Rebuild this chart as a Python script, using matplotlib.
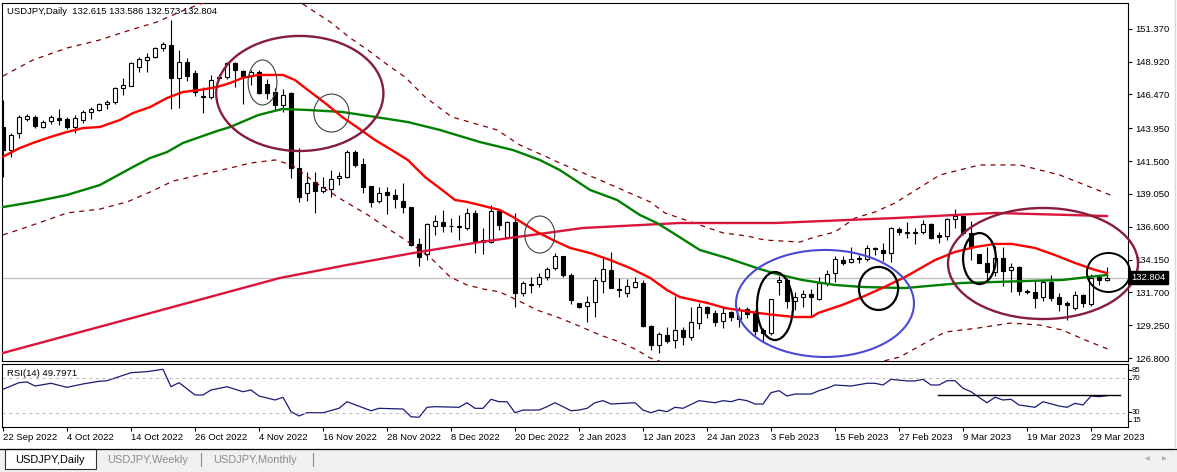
import matplotlib
matplotlib.use("Agg")
import matplotlib.pyplot as plt
import matplotlib.transforms as mtrans
from matplotlib.patches import Ellipse, Rectangle
from matplotlib.lines import Line2D
import numpy as np

plt.rcParams['font.family'] = ['Liberation Sans', 'DejaVu Sans']

# ---------------- data (USDJPY daily) ----------------
opens = [144.06,142.33,143.61,144.64,144.81,144.06,144.46,144.73,144.61,144.06,
         144.56,145.18,145.31,145.73,145.90,146.93,147.10,148.54,149.04,149.28,
         149.91,150.15,147.67,148.91,148.09,146.35,146.25,147.80,147.79,148.79,
         148.24,147.84,148.16,147.22,146.67,145.68,146.55,140.96,139.14,139.92,
         139.27,139.39,140.21,140.33,142.15,141.28,139.64,138.54,139.22,138.97,
         138.54,138.10,135.31,134.57,136.66,136.96,136.66,136.62,136.49,137.65,
         135.61,135.44,137.80,135.86,136.93,131.64,132.28,132.31,132.83,133.50,
         134.42,133.00,130.89,130.69,131.01,132.58,133.38,131.96,131.68,132.09,
         132.38,129.20,127.78,128.53,128.16,128.90,128.36,129.45,130.64,130.19,
         129.59,130.22,129.70,130.44,130.15,128.90,128.66,132.46,132.63,131.06,
         131.34,131.59,131.21,132.38,133.17,134.12,133.95,134.22,134.17,135.02,
         134.88,134.67,136.44,136.17,136.19,136.19,136.78,135.99,135.91,137.16,
         137.40,136.11,134.55,133.87,133.20,134.29,133.38,133.62,131.78,131.76,
         131.34,132.46,131.34,130.89,130.52,131.51,130.82,132.88,132.615]
highs = [146.05,143.57,144.93,145.01,144.93,144.56,144.91,145.40,144.81,144.93,
         145.31,145.55,145.85,146.05,147.05,147.67,148.91,149.28,149.54,150.00,
         150.40,152.02,149.78,149.16,148.29,147.05,147.92,148.00,148.90,148.91,
         148.29,148.29,148.29,147.60,146.93,146.85,146.67,142.45,140.71,140.71,
         140.33,140.84,140.71,142.33,142.33,141.70,139.64,139.59,139.59,139.39,
         139.89,138.10,135.74,136.86,137.48,137.85,137.23,137.50,137.98,137.85,
         136.49,138.22,137.85,137.05,137.61,132.58,132.83,133.13,133.62,134.62,
         134.42,133.13,130.95,131.44,132.83,134.25,134.74,132.76,132.68,132.88,
         132.63,129.27,128.77,129.15,131.44,129.15,130.59,130.89,130.69,130.39,
         130.59,130.30,130.59,130.64,130.39,129.03,131.19,132.93,132.76,131.76,
         131.89,131.94,132.83,133.38,134.42,134.42,135.11,134.49,135.24,135.11,
         135.37,136.61,136.61,136.93,136.49,137.10,136.86,136.23,137.23,137.92,
         137.40,137.00,134.55,135.11,135.19,135.11,133.87,133.67,131.96,132.63,
         132.63,133.00,131.64,131.06,131.81,131.60,133.06,133.00,133.586]
lows = [140.33,141.83,143.20,144.51,143.94,143.97,144.26,144.19,143.89,143.57,
        144.36,144.61,145.23,145.40,145.73,146.43,147.10,148.12,148.12,149.20,
        149.71,145.40,145.48,147.47,146.35,145.11,146.10,147.55,147.60,147.05,
        145.76,147.17,146.50,146.10,145.31,145.18,140.21,138.47,138.54,137.65,
        139.10,138.84,139.72,140.21,141.08,139.14,138.05,138.35,137.53,137.98,
        137.65,135.19,133.67,134.12,135.99,136.23,136.23,135.61,136.36,134.67,
        134.57,135.37,136.36,135.74,130.59,131.44,131.64,132.13,132.63,133.38,
        132.88,130.82,130.55,129.52,129.89,131.68,132.01,131.34,131.39,132.01,
        129.15,127.40,127.21,127.95,127.54,127.78,128.16,128.99,129.77,129.20,
        129.03,129.60,129.15,129.77,128.53,128.03,128.50,131.51,130.52,130.39,
        130.64,129.89,131.14,132.18,132.50,133.75,133.92,133.87,134.07,134.49,
        134.07,133.99,135.99,135.74,135.29,136.04,135.69,135.37,135.61,136.49,
        136.00,134.12,133.87,132.46,132.95,132.21,131.71,131.51,131.56,130.52,
        131.06,131.06,130.32,129.65,130.39,130.60,130.71,132.26,132.573]
closes = [142.33,143.44,144.76,144.88,144.11,144.44,144.76,144.56,144.06,144.69,
          145.13,145.38,145.73,145.90,146.93,147.15,148.79,149.11,149.28,149.95,
          150.21,147.67,148.91,147.87,146.67,146.25,147.54,147.70,148.79,148.29,
          147.84,148.16,146.60,146.60,145.68,146.43,140.96,138.80,139.84,139.29,
          139.59,140.14,140.39,142.15,141.21,139.59,138.47,139.14,138.97,138.65,
          138.05,135.24,134.32,136.81,137.03,136.66,136.62,136.60,137.65,135.54,
          135.44,137.80,136.73,136.93,131.64,132.38,132.36,132.83,133.43,134.44,
          133.00,131.14,130.64,130.97,132.63,133.43,132.06,131.92,132.21,132.46,
          129.22,127.78,128.58,128.08,128.90,128.40,129.52,130.64,130.15,129.52,
          130.19,129.85,130.39,130.07,128.85,128.66,131.19,132.63,131.06,131.39,
          131.57,131.39,132.38,133.08,134.17,133.87,134.17,134.27,135.00,134.96,
          134.62,136.49,136.23,136.21,136.11,136.78,135.79,135.86,137.16,137.40,
          136.11,135.11,133.92,133.20,134.25,133.30,133.60,131.83,131.74,131.31,
          132.46,131.31,130.82,130.76,131.51,130.89,132.80,132.63,132.804]

date_labels = ["22 Sep 2022", "4 Oct 2022", "14 Oct 2022", "26 Oct 2022", "4 Nov 2022",
               "16 Nov 2022", "28 Nov 2022", "8 Dec 2022", "20 Dec 2022", "2 Jan 2023",
               "12 Jan 2023", "24 Jan 2023", "3 Feb 2023", "15 Feb 2023", "27 Feb 2023",
               "9 Mar 2023", "19 Mar 2023", "29 Mar 2023"]
date_label_bars = list(range(0, 137, 8))

price_ticks = [151.370, 148.920, 146.470, 143.950, 141.500, 139.050,
               136.600, 134.150, 131.700, 129.250, 126.800]
current_price = 132.804

# fast MA (red)
ma_fast_x = [0,2.1,3.75,5.9,8,10,12.1,14.6,16.25,18.4,20.5,22.5,24.6,26.75,28.4,29.9,31.9,35,
             36.5,38.1,40.25,42.4,44.4,46.5,48.6,50.6,52.75,54.9,56.5,58,59.6,62.1,63.75,66.75,
             68.75,70.9,73.4,75.9,78.4,80.9,83,84.6,88.1,90.25,94.4,96.5,99,101.1,101.9,104.9,
             107.4,109.9,112.75,116.5,119,121.5,124,126.1,129,131.5,134,136.5,138]
ma_fast_y = [141.83,142.47,142.85,143.29,143.67,143.96,144.04,144.56,145.08,145.53,146.20,
             146.65,146.80,147.02,147.32,147.69,147.92,147.92,147.54,146.80,145.83,144.79,
             143.96,143.07,142.32,141.58,140.31,139.34,138.60,138.45,138.22,137.85,137.33,
             136.21,135.61,135.02,134.64,134.12,133.52,132.78,131.88,131.36,130.91,130.54,
             130.17,130.02,129.87,129.87,130.17,130.77,131.36,132.03,132.85,134.12,134.72,
             135.09,135.32,135.32,135.02,134.49,133.90,133.38,133.15]
# mid MA (green)
ma_mid_x = [0,3.75,8,12.1,16.25,18.4,20.5,22.5,24.6,26.75,28.4,31.9,34.9,38.1,42.4,46.5,50.6,
            54.6,59.6,63.75,67.1,69.6,73.4,76.75,79.6,81.75,83.75,87.1,90.5,94.25,96.25,99.9,
            104,107.4,112.75,119.9,124,128.1,132.4,135.6,138]
ma_mid_y = [138.07,138.45,138.97,139.71,141.06,141.73,142.17,142.85,143.29,143.74,144.04,
            144.93,145.38,145.31,145.16,144.79,144.41,143.82,142.92,142.32,141.58,140.83,
            139.34,138.60,137.48,136.88,136.14,134.87,134.27,133.52,133.15,132.63,132.26,
            132.11,132.03,132.41,132.48,132.56,132.63,132.85,133.00]
# slow MA (crimson)
ma_slow_x = [0,17.1,34.6,43,51.25,59.6,68,72.5,84.6,96.5,111.5,124,138]
ma_slow_y = [127.19,129.95,132.78,133.75,134.64,135.46,136.14,136.51,136.88,136.88,137.25,
             137.63,137.40]
# upper band (dashed)
band_up_x = [0,3.75,8,12.1,15.9,19.25,22.1,24.6,28.4,32.75,35.9,37.1,40.9,43.4,45.6,48.1,
             50.25,52.75,56.1,61.75,64.6,68,69.6,74.6,80.9,82.75,87.1,90,93,95.25,99.6,101.5,
             104,106.5,109,111.5,117.1,122.1,127.1,132.1,138.4]
band_up_y = [147.84,149.04,149.93,150.53,151.27,151.87,152.62,153.21,153.88,154.11,153.73,
             153.36,151.87,150.68,149.78,148.66,147.77,146.28,144.79,143.82,142.70,141.80,
             141.35,140.09,138.45,137.63,136.73,136.14,135.91,135.61,135.46,135.84,136.21,
             137.25,137.70,138.37,140.46,141.21,141.21,140.46,138.97]
# lower band (dashed)
band_lo_x = [0,3,8,12.1,15.5,18.4,21.25,24.6,28.4,30.9,34,36.1,38.1,39.9,42.4,45.6,48.4,
             51.25,53.75,55.9,58,60,62.1,64.25,66.75,69.25,71.75,74.6,77.1,79.25,80.9,84.6,
             89.6,97.1,104.6,109.6,112.1,117.75,121.9,125.9,129.6,132.4,135.25,138.4]
band_lo_y = [135.99,136.58,137.63,137.92,138.45,139.19,140.01,140.46,140.98,141.35,141.58,
             141.21,140.31,139.57,138.60,137.48,136.36,135.24,134.12,132.85,132.26,131.96,
             131.74,131.14,130.39,129.87,129.27,128.53,128.01,127.41,126.81,126.07,125.55,
             125.55,125.92,126.52,126.89,128.75,129.05,129.42,129.27,128.90,128.16,127.41]

# RSI(14)
rsi_x = [0,2,3,4,6,8,10,12,13,16,18,20,21,22,24,25,26,28,30,31,32,34,35,36,37,38,40,42,43,
         46,47,50,51,52,53,54,57,58,59,60,61,62,63,64,65,67,68,69,70,71,72,73,74,75,76,79,
         80,81,82,83,84,85,87,89,90,91,92,93,94,95,96,97,98,99,101,102,103,104,106,108,109,
         110,111,113,114,115,116,117,118,119,120,121,122,123,124,125,126,127,129,130,132,
         133,134,135,136,137,138]
rsi_y = [57.2,64.9,65.7,61.0,64.2,59.5,63.4,66.5,67.2,76.5,77.7,80.5,60.2,64.9,50.6,50.6,
         56.4,60.2,54.4,56.4,49.4,44.8,47.9,31.2,26.2,30.0,30.0,35.1,42.8,32.3,35.1,34.3,
         25.3,24.7,36.3,37.0,36.3,41.6,35.1,35.1,45.6,42.8,42.8,30.0,33.1,33.1,37.0,41.6,
         37.0,32.3,33.1,35.1,41.6,44.0,40.1,41.6,33.1,30.0,33.1,31.2,36.3,35.1,44.0,41.6,
         44.0,42.8,45.6,44.0,40.1,40.1,53.3,55.6,49.4,51.7,51.7,55.6,58.4,62.2,61.0,64.2,
         64.2,62.2,68.8,66.9,66.9,68.8,62.2,62.2,67.2,67.2,58.4,54.4,47.9,41.6,47.9,44.8,
         45.6,39.0,36.3,42.8,37.8,36.3,40.9,39.0,49.4,48.6,49.8]
rsi_levels = [70, 30]
rsi_scale_labels = ["85", "70", "30", "15"]
rsi_trend_x = [116.9, 139.6]
rsi_trend_y = [50.6, 50.6]

# annotation ellipses: centre (bar, price), width (bars), height (price)
ell_cx = [37.1, 32.44, 41.06, 67.1, 102.75, 96.5, 109.44, 130.0, 122.06, 138.19]
ell_cy = [146.54, 147.36, 145.08, 136.02, 130.88, 130.69, 132.00, 133.86, 134.23, 133.19]
ell_w = [20.9, 3.6, 4.4, 3.75, 22.25, 4.5, 4.9, 23.75, 4.1, 5.4]
ell_h = [8.58, 3.36, 2.83, 2.76, 7.98, 5.07, 3.21, 8.28, 3.80, 2.91]
ell_col = ['#861c3e', '#404040', '#404040', '#404040', '#4a4ad2', 'black', 'black',
           '#861c3e', 'black', 'black']
ell_lw = [1.7, 0.8, 0.8, 0.8, 1.5, 1.6, 1.6, 1.7, 1.6, 1.4]

# ---------------- figure ----------------
W, H = 1177, 472
fig = plt.figure(figsize=(W / 100, H / 100), dpi=100)
fig.patch.set_facecolor('white')

def fx(px):
    return px / W

def fy(py):
    return 1 - py / H

FS = 6.8
ax = fig.add_axes([fx(2), fy(361), fx(1126), (361 - 3) / H])
ax2 = fig.add_axes([fx(2), fy(427), fx(1126), (427 - 364) / H])

n = len(closes)
xs = np.arange(n)
o = np.array(opens); h = np.array(highs); l = np.array(lows); c = np.array(closes)
bull = c >= o

# candles
ax.vlines(xs, l, h, color='black', lw=0.8, zorder=2)
body_bottom = np.minimum(o, c)
body_h = np.abs(c - o)
ax.bar(xs, body_h, bottom=body_bottom, width=0.6,
       color=np.where(bull, 'white', 'black'), edgecolor='black', lw=0.8, zorder=3)

# indicator lines
ax.plot(band_up_x, band_up_y, color='#800000', lw=0.9, ls=(0, (4, 4)), zorder=4)
ax.plot(band_lo_x, band_lo_y, color='#800000', lw=0.9, ls=(0, (4, 4)), zorder=4)
ax.plot(ma_slow_x, ma_slow_y, color='#dc143c', lw=1.7, zorder=4)
ax.plot(ma_mid_x, ma_mid_y, color='#008000', lw=1.7, zorder=4)
ax.plot(ma_fast_x, ma_fast_y, color='#ff0000', lw=1.7, zorder=5)
ax.axhline(current_price, color='#c0c0c0', lw=0.9, zorder=1)

for cx, cy, w, hh, col, lw in zip(ell_cx, ell_cy, ell_w, ell_h, ell_col, ell_lw):
    e = Ellipse((cx, cy), w, hh, fill=False, edgecolor=col, lw=lw, zorder=6)
    e.set_clip_on(False)
    ax.add_patch(e)

ax.set_xlim(-0.125, 140.625)
ax.set_ylim(126.59, 153.286)
ax.set_xticks([])
ax.yaxis.tick_right()
ax.set_yticks(price_ticks)
ax.set_yticklabels(["%.3f" % v for v in price_ticks])
ax.tick_params(axis='y', direction='out', length=3, width=0.8, pad=2, labelsize=FS)
for s in ax.spines.values():
    s.set_linewidth(0.8)

# current price box
trans = mtrans.blended_transform_factory(ax.transAxes, ax.transData)
ax.text(1.003, current_price, "%.3f" % current_price, transform=trans, color='white',
        fontsize=FS, ha='left', va='center', zorder=10,
        bbox=dict(boxstyle='square,pad=0.2', fc='black', ec='black'))

# RSI panel
ax2.plot(rsi_x, rsi_y, color='#1a1a78', lw=0.9)
for lv in rsi_levels:
    ax2.axhline(lv, color='#c0c0c0', lw=0.8, ls=(0, (3, 3)))
ax2.plot(rsi_trend_x, rsi_trend_y, color='black', lw=1.0, clip_on=False)
ax2.set_xlim(-0.125, 140.625)
ax2.set_ylim(13.4, 86.6)
ax2.set_yticks([])
ax2.set_xticks(date_label_bars)
ax2.set_xticklabels(date_labels, ha='left')
ax2.tick_params(axis='x', direction='out', length=3, width=0.8, pad=1.5, labelsize=FS)
for s in ax2.spines.values():
    s.set_linewidth(0.8)
for txt, py in zip(rsi_scale_labels, [370.3, 378.6, 412.2, 420.6]):
    fig.text(fx(1132), fy(py), txt, fontsize=5.6, ha='left', va='center')
    fig.add_artist(Line2D([fx(1128), fx(1131)], [fy(py), fy(py)], color='black', lw=0.7))

# headers
fig.text(fx(7), fy(11), "USDJPY,Daily  132.615 133.586 132.573 132.804", fontsize=FS,
         ha='left', va='center')
fig.text(fx(7), fy(373), "RSI(14) 49.7971", fontsize=FS, ha='left', va='center')

# tab bar
fig.add_artist(Rectangle((0, 0), 1, fy(448.5), transform=fig.transFigure,
                         fc='#f0f0f0', ec='none', zorder=0))
fig.add_artist(Line2D([0, 1], [fy(448.5), fy(448.5)], color='black', lw=0.9))
fig.add_artist(Rectangle((fx(5), fy(469)), fx(91), (469 - 449) / H, transform=fig.transFigure,
                         fc='white', ec='#303030', lw=0.8, zorder=1))
fig.text(fx(50), fy(460), "USDJPY,Daily", fontsize=7.9, ha='center', va='center', color='black')
fig.text(fx(148), fy(460), "USDJPY,Weekly", fontsize=7.9, ha='center', va='center', color='#8c8c8c')
fig.text(fx(255), fy(460), "USDJPY,Monthly", fontsize=7.9, ha='center', va='center', color='#8c8c8c')
for sx in [201, 313]:
    fig.add_artist(Line2D([fx(sx), fx(sx)], [fy(453), fy(466)], color='#8c8c8c', lw=0.8))
fig.text(fx(1147), fy(459), "\u25C0", fontsize=4.5, ha='center', va='center', color='#b0b0b0',
         family='DejaVu Sans')
fig.text(fx(1164), fy(459), "\u25B6", fontsize=4.5, ha='center', va='center', color='#b0b0b0',
         family='DejaVu Sans')
fig.add_artist(Line2D([fx(1175), fx(1175)], [fy(0), fy(448)], color='#d8d8d8', lw=1))

fig.savefig("out.png", dpi=100)
